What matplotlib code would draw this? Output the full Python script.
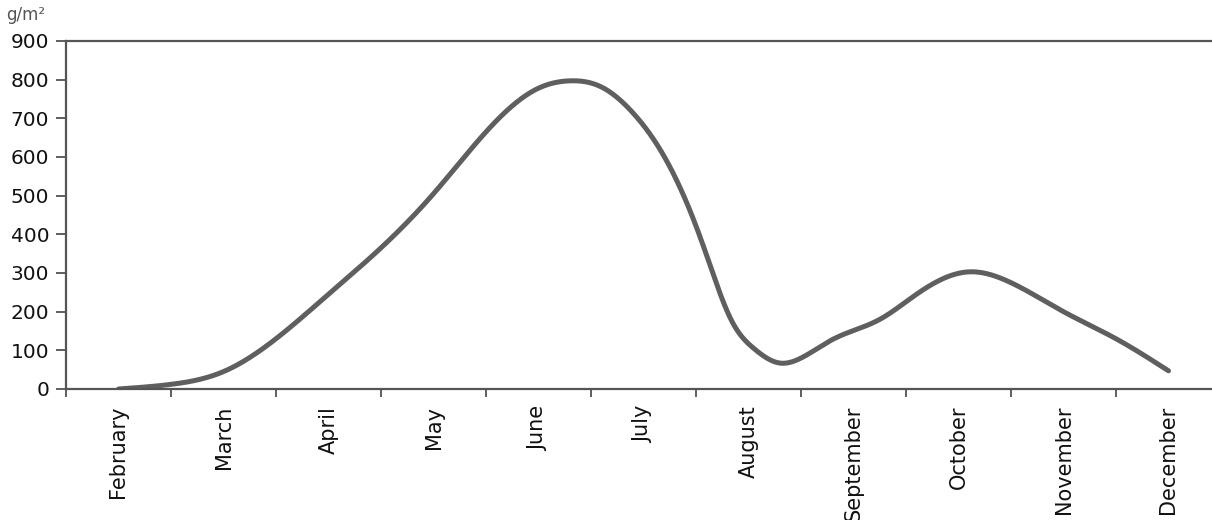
import matplotlib
matplotlib.use('Agg')
import matplotlib.pyplot as plt
import numpy as np

months = ['February', 'March', 'April', 'May', 'June', 'July', 'August',
          'September', 'October', 'November', 'December']

# positions in month units (0 = February) and values, g/m2
pos = [0, 0.5, 1, 1.5, 2, 2.5, 3, 3.5, 4, 4.3, 4.6, 4.9, 5.2, 5.55, 5.85, 6.05,
       6.3, 6.5, 6.8, 7.25, 7.6, 8.1, 8.5, 9, 9.5, 10]
vals = [0, 12, 45, 130, 245, 365, 505, 665, 778, 797, 781, 714, 600, 385, 171, 105,
        67, 80, 128, 180, 245, 303, 275, 200, 130, 47]

yticks = [0, 100, 200, 300, 400, 500, 600, 700, 800, 900]


def spline(x, y, xn):
    # natural cubic spline, like the smoothed line of the original
    x = np.asarray(x, float)
    y = np.asarray(y, float)
    n = len(x)
    h = np.diff(x)
    A = np.zeros((n, n))
    b = np.zeros(n)
    A[0, 0] = 1
    A[-1, -1] = 1
    for i in range(1, n - 1):
        A[i, i - 1] = h[i - 1]
        A[i, i] = 2 * (h[i - 1] + h[i])
        A[i, i + 1] = h[i]
        b[i] = 6 * ((y[i + 1] - y[i]) / h[i] - (y[i] - y[i - 1]) / h[i - 1])
    M = np.linalg.solve(A, b)
    idx = np.clip(np.searchsorted(x, xn) - 1, 0, n - 2)
    x0, x1 = x[idx], x[idx + 1]
    hh = h[idx]
    return (M[idx] * (x1 - xn) ** 3 / (6 * hh) + M[idx + 1] * (xn - x0) ** 3 / (6 * hh)
            + (y[idx] / hh - M[idx] * hh / 6) * (x1 - xn)
            + (y[idx + 1] / hh - M[idx + 1] * hh / 6) * (xn - x0))


xs = np.linspace(pos[0], pos[-1], 800)
ys = spline(pos, vals, xs)

fig = plt.figure(figsize=(12.12, 5.2), dpi=100)
ax = fig.add_axes([66 / 1212, 131 / 520, 1155 / 1212, 348 / 520])

ax.plot(xs, ys, color='#5f5f5f', lw=3.6, solid_capstyle='round')

ax.set_xlim(-0.5, 10.5)
ax.set_ylim(0, 900)
ax.set_yticks(yticks)
ax.set_xticks(range(len(months)))
ax.set_xticklabels(months, rotation=90, fontsize=15, color='#111111')
ax.set_xticks(np.arange(-0.5, 10.6, 1), minor=True)
ax.tick_params(axis='x', which='major', length=0, pad=12)
ax.tick_params(axis='x', which='minor', length=6, width=1.2, color='#444444')
ax.tick_params(axis='y', length=7, width=1.2, color='#444444', labelsize=14.5,
               labelcolor='#111111', pad=5)

for s in ['left', 'bottom', 'top']:
    ax.spines[s].set_color('#555555')
    ax.spines[s].set_linewidth(1.6)
ax.spines['right'].set_visible(False)

fig.text(6 / 1212, 1 - 24 / 520, 'g/m²', fontsize=12, color='#555555', va='bottom')

fig.savefig('out.png', dpi=100)
